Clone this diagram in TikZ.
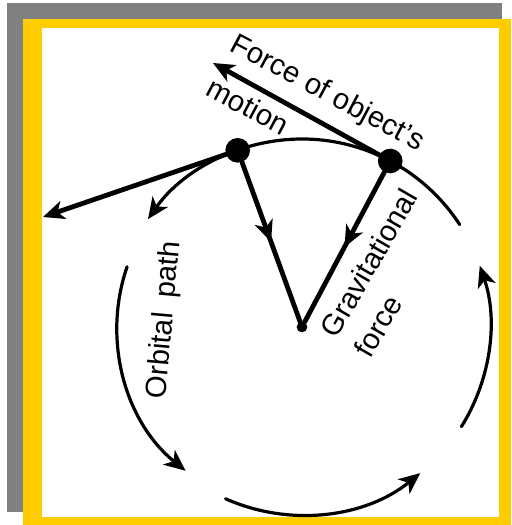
\documentclass[tikz,border=0pt]{standalone}
\usepackage{fontspec}
\setmainfont{Liberation Sans}
\usetikzlibrary{arrows.meta,decorations.markings}
\definecolor{backgray}{RGB}{128,128,128}
\definecolor{bordergold}{RGB}{255,204,0}
\tikzset{
  orbit/.style={line width=2.4pt,->},
  force/.style={line width=3.6pt,->},
  pull/.style={line width=3.6pt,postaction={decorate},
    decoration={markings,mark=at position .5 with {\arrow{>}}}},
  dot/.style={circle,fill,inner sep=0pt,minimum size=18.5pt},
  lbl/.style={inner sep=0pt}
}
\begin{document}
\begin{tikzpicture}[x=.75pt,y=.75pt,>={Stealth[length=16pt,width=14pt,inset=4.5pt]},line join=round,line cap=round,font=\fontsize{22}{26}\selectfont]
	\def\cx{302} \def\cy{198} \def\R{188}
	\useasboundingbox (0,0) rectangle (511,525);
	\fill[backgray] (7,13) rectangle (502,522);
	\fill[bordergold] (23,0) rectangle (511,506);
	\fill[white] (42,8) rectangle (499,497);
	\draw[orbit] ([shift={(\cx,\cy)}]33:\R) arc[start angle=33,end angle=145,radius=\R];
	\draw[orbit] ([shift={(\cx,\cy)}]161:185) arc[start angle=161,end angle=231,radius=185];
	\draw[orbit] ([shift={(\cx,\cy)}]246:\R) arc[start angle=246,end angle=309,radius=\R];
	\draw[orbit] ([shift={(\cx,\cy)}]328:\R) arc[start angle=328,end angle=379,radius=\R];
	\node[dot] (p1) at ([shift={(\cx,\cy)}]110:\R) {};
	\node[dot] (p2) at ([shift={(\cx,\cy)}]62:\R) {};
	\node[dot,minimum size=8pt] (c) at (\cx,\cy) {};
	\coordinate (t1) at (43,308);
	\coordinate (t2) at (213,462);
	\draw[force] (p1) -- (t1);
	\draw[force] (p2) -- (t2);
	\draw[pull] (p1) -- (c);
	\draw[pull] (p2) -- (c);
	\node[lbl,rotate=-28] (f1) at (327,431) {Force of object's};
	\node[lbl,rotate=-28] (f2) at (248,419) {motion};
	\node[lbl,rotate=60] (g1) at (369,262) {Gravitational};
	\node[lbl,rotate=60] (g2) at (378,199) {force};
	\node[lbl,rotate=85] (o1) at (165,205) {Orbital\hspace{.5em}path};
\end{tikzpicture}
\end{document}
